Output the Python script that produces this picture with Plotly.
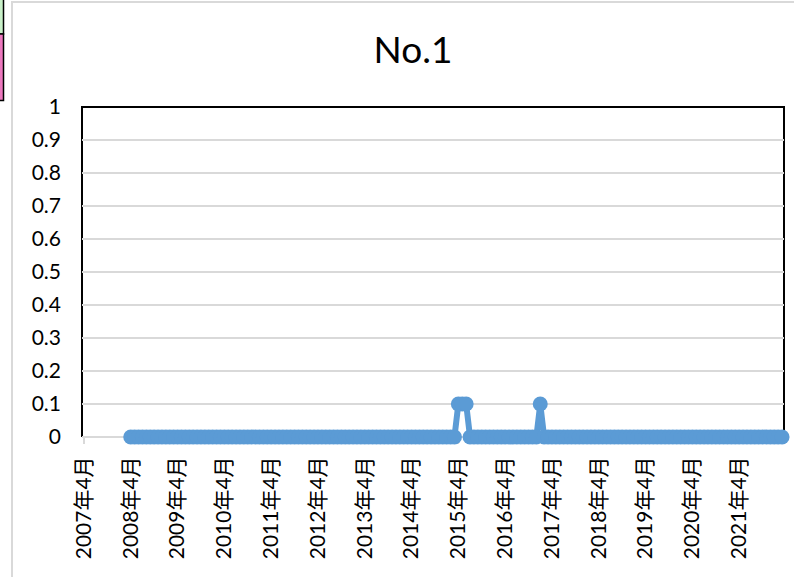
import plotly.graph_objects as go

# Monthly series, April 2007 through March 2022 (one row per fiscal year, Apr..Mar)
YEARS = list(range(2007, 2022))
MONTHS = [4, 5, 6, 7, 8, 9, 10, 11, 12, 1, 2, 3]

VALUES_BY_YEAR = [
    [None, None, None, None, None, None, None, None, None, None, None, None],  # 2007
    [0, 0, 0, 0, 0, 0, 0, 0, 0, 0, 0, 0],  # 2008
    [0, 0, 0, 0, 0, 0, 0, 0, 0, 0, 0, 0],  # 2009
    [0, 0, 0, 0, 0, 0, 0, 0, 0, 0, 0, 0],  # 2010
    [0, 0, 0, 0, 0, 0, 0, 0, 0, 0, 0, 0],  # 2011
    [0, 0, 0, 0, 0, 0, 0, 0, 0, 0, 0, 0],  # 2012
    [0, 0, 0, 0, 0, 0, 0, 0, 0, 0, 0, 0],  # 2013
    [0, 0, 0, 0, 0, 0, 0, 0, 0, 0, 0, 0],  # 2014
    [0.1, 0.1, 0.1, 0, 0, 0, 0, 0, 0, 0, 0, 0],  # 2015
    [0, 0, 0, 0, 0, 0, 0, 0, 0, 0.1, 0, 0],  # 2016
    [0, 0, 0, 0, 0, 0, 0, 0, 0, 0, 0, 0],  # 2017
    [0, 0, 0, 0, 0, 0, 0, 0, 0, 0, 0, 0],  # 2018
    [0, 0, 0, 0, 0, 0, 0, 0, 0, 0, 0, 0],  # 2019
    [0, 0, 0, 0, 0, 0, 0, 0, 0, 0, 0, 0],  # 2020
    [0, 0, 0, 0, 0, 0, 0, 0, 0, 0, 0, 0],  # 2021
]

TITLE = "No.1"
Y_TICKS = [0, 0.1, 0.2, 0.3, 0.4, 0.5, 0.6, 0.7, 0.8, 0.9, 1]
Y_TICK_TEXT = ["0", "0.1", "0.2", "0.3", "0.4", "0.5", "0.6", "0.7", "0.8", "0.9", "1"]

categories = []
values = []
for fy, row in zip(YEARS, VALUES_BY_YEAR):
    for m, v in zip(MONTHS, row):
        y = fy if m >= 4 else fy + 1
        categories.append(f"{y}年{m}月")
        values.append(v)

x_ticks = [f"{y}年4月" for y in YEARS]

FONT = "Lato, 'Noto Sans CJK JP', sans-serif"
BLUE = "#5B9BD5"
GRID = "#D9D9D9"

fig = go.Figure()
fig.add_trace(go.Scatter(
    x=categories, y=values,
    mode="lines+markers",
    line=dict(color=BLUE, width=6),
    marker=dict(color=BLUE, size=15),
    connectgaps=False,
    cliponaxis=False,
    hoverinfo="x+y",
    showlegend=False,
))

# paper-coordinate helpers for decorations outside the plot area
L, R, T, B = 82, 10, 107, 140
W, H = 794, 577
pw, ph = W - L - R, H - T - B


def px(x):
    return (x - L) / pw


def py(y):
    return (H - B - y) / ph


shapes = [
    # chart frame
    dict(type="rect", xref="paper", yref="paper", x0=px(12), x1=px(820), y0=py(2), y1=py(600),
         line=dict(color="#D9D9D9", width=2), fillcolor="rgba(0,0,0,0)", layer="below"),
    # neighbouring worksheet cells
    dict(type="rect", xref="paper", yref="paper", x0=px(-5), x1=px(3.5), y0=py(-5), y1=py(34),
         line=dict(color="#000000", width=1.5), fillcolor="#C8F0C8", layer="above"),
    dict(type="rect", xref="paper", yref="paper", x0=px(-5), x1=px(3.5), y0=py(34), y1=py(100.5),
         line=dict(color="#000000", width=1.5), fillcolor="#EC78BE", layer="above"),
    # plot-area border (top, right, left)
    dict(type="path", xref="paper", yref="paper",
         path="M 0 0 L 0 1 L 1 1 L 1 0",
         line=dict(color="#000000", width=2), layer="below"),
]

fig.update_layout(
    width=W, height=H,
    margin=dict(l=L, r=R, t=T, b=B),
    paper_bgcolor="white", plot_bgcolor="white",
    font=dict(family=FONT, color="#000000", size=21),
    title=dict(text=TITLE, x=413 / W, y=1 - 50 / H, xref="container", yref="container",
               xanchor="center", yanchor="middle",
               font=dict(family=FONT, size=37, color="#000000")),
    shapes=shapes,
    xaxis=dict(
        type="category",
        categoryorder="array", categoryarray=categories,
        range=[-0.5, len(categories) - 0.5],
        tickmode="array", tickvals=x_ticks, ticktext=x_ticks,
        tickangle=-90,
        ticks="outside", ticklen=6, tickcolor=GRID, tickwidth=1.5,
        ticklabelstandoff=4,
        showgrid=False, showline=False, zeroline=False,
        tickfont=dict(family=FONT, size=21, color="#000000"),
        layer="below traces",
    ),
    yaxis=dict(
        range=[0, 1],
        tickmode="array", tickvals=Y_TICKS, ticktext=Y_TICK_TEXT,
        showgrid=True, gridcolor=GRID, gridwidth=1.5,
        zeroline=True, zerolinecolor=GRID, zerolinewidth=2,
        showline=False, ticks="",
        ticklabelstandoff=20,
        tickfont=dict(family=FONT, size=21, color="#000000"),
        layer="below traces",
    ),
)

fig.write_html("out.html")
